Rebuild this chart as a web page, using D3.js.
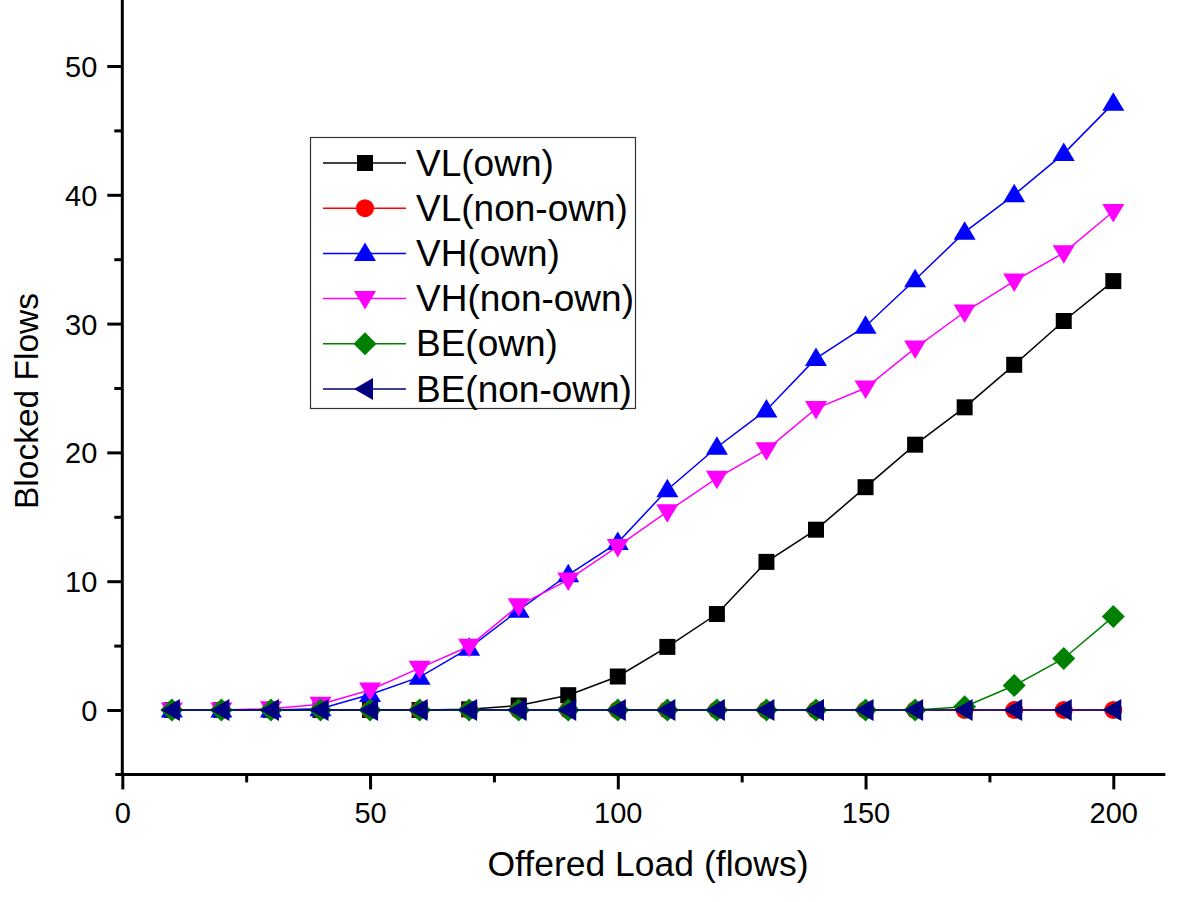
<!DOCTYPE html>
<html><head><meta charset="utf-8">
<script src="https://cdn.jsdelivr.net/npm/d3@7"></script>
<style>body{margin:0;background:#fff;} svg{display:block;} text{font-family:"Liberation Sans",Arial,sans-serif;fill:#000;}</style>
</head><body><svg id="c" width="1200" height="902"></svg>
<script>
const loads = [10,20,30,40,50,60,70,80,90,100,110,120,130,140,150,160,170,180,190,200];
const vlOwn    = [0,0,0,0,0,0,0.05,0.35,1.15,2.6,4.9,7.45,11.5,14.0,17.3,20.6,23.5,26.8,30.2,33.3];
const vlNonOwn = [0,0,0,0,0,0,0,0,0,0,0,0,0,0,0,0,0,0,0,0];
const vhOwn    = [0,0,0,0.1,1.2,2.55,4.8,7.75,10.5,13.0,17.1,20.4,23.3,27.3,29.8,33.4,37.1,40.0,43.2,47.1];
const vhNonOwn = [0,0,0.1,0.45,1.55,3.25,4.95,8.1,10.1,12.7,15.4,18.0,20.2,23.4,25.0,28.1,30.9,33.3,35.5,38.7];
const beOwn    = [0,0,0,0,0,0,0,0,0,0,0,0,0,0,0,0,0.25,1.9,4.0,7.25];
const beNonOwn = [0,0,0,0,0,0,0,0,0,0,0,0,0,0,0,0,0,0,0,0];
const seriesNames = ["VL(own)","VL(non-own)","VH(own)","VH(non-own)","BE(own)","BE(non-own)"];
const xTicks = [0,50,100,150,200];
const yTicks = [0,10,20,30,40,50];

const seriesVals = [vlOwn, vlNonOwn, vhOwn, vhNonOwn, beOwn, beNonOwn];
const colors = ["#000000","#ff0000","#0000ff","#ff00ff","#008000","#000080"];
const shapes = ["square","circle","up","down","diamond","left"];

const svg = d3.select("#c");
const x = d3.scaleLinear().domain([0,200]).range([122.3,1113.3]);
const y = d3.scaleLinear().domain([0,50]).range([710,66]);
const xMax = 210.5, yMin = -5;

function shapePath(s){
  switch(s){
    case "square": return "M-8,-8H8V8H-8Z";
    case "circle": return d3.symbol(d3.symbolCircle, Math.PI*9*9)();
    case "up": return "M0,-11L11,7.5L-11,7.5Z";
    case "down": return "M0,11L11,-7.5L-11,-7.5Z";
    case "diamond": return "M0,-11.5L11.5,0L0,11.5L-11.5,0Z";
    case "left": return "M-11,0L8,-11L8,11Z";
  }
}

// axes
const ax = svg.append("g");
ax.append("line").attr("x1",x(0)).attr("x2",x(0)).attr("y1",0).attr("y2",y(yMin)+1.5)
  .attr("stroke","#000").attr("stroke-width",3);
ax.append("line").attr("x1",x(0)-7).attr("x2",x(xMax)).attr("y1",y(yMin)).attr("y2",y(yMin))
  .attr("stroke","#000").attr("stroke-width",3);

const xAxis = d3.axisBottom(x).tickValues(xTicks).tickSize(15).tickFormat(d3.format("d"));
const gx = svg.append("g").attr("transform",`translate(0,${y(yMin)})`).call(xAxis);
gx.select(".domain").remove();
gx.selectAll(".tick line").attr("stroke","#000").attr("stroke-width",3);
gx.selectAll(".tick text").attr("font-size",29).attr("dy",0).attr("y",49).attr("font-family","Liberation Sans, Arial, sans-serif").attr("fill","#000");
const xMinor = d3.axisBottom(x).tickValues([25,75,125,175]).tickSize(8).tickFormat("");
const gxm = svg.append("g").attr("transform",`translate(0,${y(yMin)})`).call(xMinor);
gxm.select(".domain").remove();
gxm.selectAll(".tick line").attr("stroke","#000").attr("stroke-width",3);

const yAxis = d3.axisLeft(y).tickValues(yTicks).tickSize(15).tickFormat(d3.format("d"));
const gy = svg.append("g").attr("transform",`translate(${x(0)},0)`).call(yAxis);
gy.select(".domain").remove();
gy.selectAll(".tick line").attr("stroke","#000").attr("stroke-width",3);
gy.selectAll(".tick text").attr("font-size",29).attr("x",-25).attr("dy","0.36em").attr("font-family","Liberation Sans, Arial, sans-serif").attr("fill","#000");
const yMinor = d3.axisLeft(y).tickValues([5,15,25,35,45]).tickSize(8).tickFormat("");
const gym = svg.append("g").attr("transform",`translate(${x(0)},0)`).call(yMinor);
gym.select(".domain").remove();
gym.selectAll(".tick line").attr("stroke","#000").attr("stroke-width",3);

// titles
svg.append("text").attr("x",648).attr("y",876).attr("text-anchor","middle")
  .attr("font-size",35.5).text("Offered Load (flows)");
svg.append("text").attr("transform","translate(38,401) rotate(-90)").attr("text-anchor","middle")
  .attr("font-size",33.5).text("Blocked Flows");

// series
const line = d3.line().x((d,i)=>x(loads[i])).y(d=>y(d));
seriesVals.forEach((vals,k)=>{
  const g = svg.append("g");
  g.append("path").datum(vals).attr("d",line).attr("fill","none").attr("stroke",colors[k]).attr("stroke-width",1.5);
  g.selectAll("path.m").data(vals).enter().append("path").attr("class","m")
    .attr("d",shapePath(shapes[k])).attr("transform",(d,i)=>`translate(${x(loads[i])},${y(d)})`)
    .attr("fill",colors[k]);
});

// legend
const lg = svg.append("g");
lg.append("rect").attr("x",310.5).attr("y",137.5).attr("width",325).attr("height",271)
  .attr("fill","#fff").attr("stroke","#333").attr("stroke-width",1.2);
seriesNames.forEach((n,k)=>{
  const yc = 163 + k*45.2;
  lg.append("line").attr("x1",323).attr("x2",406).attr("y1",yc).attr("y2",yc).attr("stroke",colors[k]).attr("stroke-width",1.5);
  lg.append("path").attr("d",shapePath(shapes[k])).attr("transform",`translate(365,${yc})`).attr("fill",colors[k]);
  lg.append("text").attr("x",416).attr("y",yc+12.5).attr("font-size",37).text(n);
});
</script></body></html>
